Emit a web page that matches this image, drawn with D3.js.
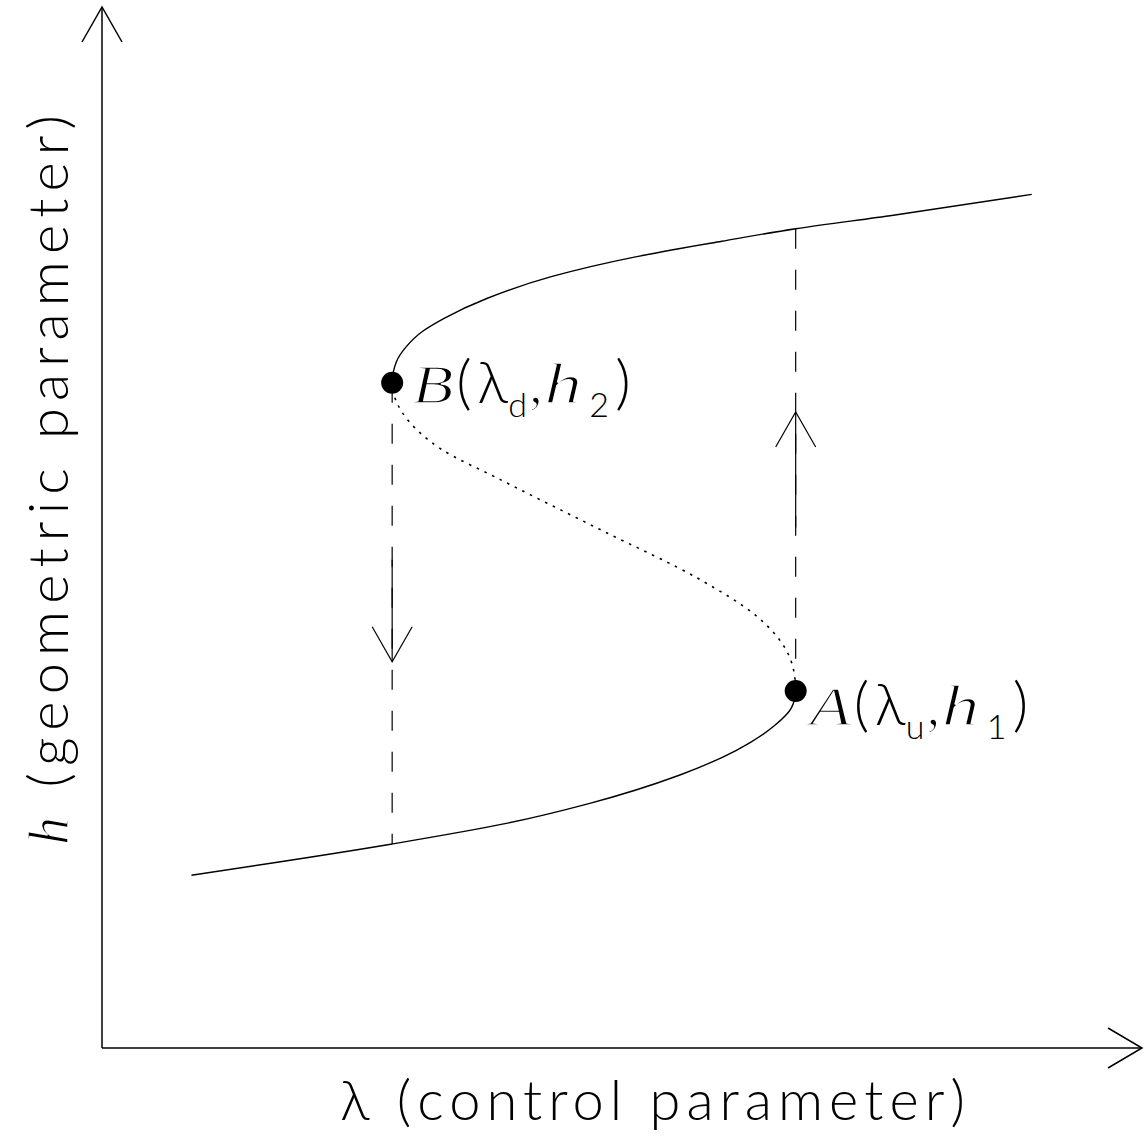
<!DOCTYPE html>
<html>
<head>
<meta charset="utf-8">
<script src="https://cdn.jsdelivr.net/npm/d3@7"></script>
<style>
body { margin: 0; background: #fff; }
</style>
</head>
<body>
<svg id="chart" width="1146" height="1137"></svg>
<script>
// equilibrium path, ordered by increasing h
// (lower stable branch, unstable branch, upper stable branch)
var pathLam = [0.86, 2.79, 3.90, 4.69, 5.55, 6.10, 6.47, 6.63, 6.67,
    6.65, 6.55, 6.28, 5.75, 4.79, 3.83, 3.25, 2.96, 2.83, 2.79,
    2.83, 2.92, 3.09, 3.29, 3.70, 4.32, 5.13, 5.96, 6.67, 7.61, 8.94];
var pathH = [1.66, 1.96, 2.16, 2.35, 2.62, 2.86, 3.10, 3.27, 3.43,
    3.63, 3.87, 4.16, 4.50, 4.98, 5.46, 5.76, 6.01, 6.21, 6.39,
    6.59, 6.73, 6.89, 7.01, 7.20, 7.41, 7.60, 7.75, 7.87, 8.00, 8.20];

// limit points A (lambda_u, h1) and B (lambda_d, h2)
var pointNames = ["A", "B"];
var pointSubs = ["u", "d"];
var pointIdx = ["1", "2"];
var pointLam = [6.67, 2.79];
var pointH = [3.43, 6.39];

// jumps from a limit point to the other stable branch
var jumpLam = [2.79, 6.67];
var jumpFrom = [6.39, 3.43];
var jumpTo = [1.96, 7.87];
var arrowTail = [4.69, 5.0];
var arrowTip = [3.71, 6.11];

var W = 1146, H = 1137;
var svg = d3.select("#chart");
var x = d3.scaleLinear().domain([0, 10]).range([102, 1142]);
var y = d3.scaleLinear().domain([0, 10]).range([1048, 7]);

var line = d3.line()
    .x(function(d) { return x(d[0]); })
    .y(function(d) { return y(d[1]); })
    .curve(d3.curveMonotoneY);

// axes with open arrow heads
var x0 = x(0), y0 = y(0), xEnd = x.range()[1], yEnd = y.range()[1];
var axes = svg.append("g")
    .attr("fill", "none")
    .attr("stroke", "#000")
    .attr("stroke-width", 1.5);
axes.append("path").attr("d", "M" + x0 + "," + y0 + "V" + yEnd);
axes.append("path").attr("d", "M" + x0 + "," + y0 + "H" + xEnd);
axes.append("path").attr("d", "M" + (x0 - 20) + "," + (yEnd + 35) + "L" + x0 + "," + yEnd + "L" + (x0 + 20) + "," + (yEnd + 35));
axes.append("path").attr("d", "M" + (xEnd - 34) + "," + (y0 - 20) + "L" + xEnd + "," + y0 + "L" + (xEnd - 34) + "," + (y0 + 20));

// the path is one smooth curve; bands in h split stable / unstable parts
var yA = y(pointH[0]), yB = y(pointH[1]);
var defs = svg.append("defs");
var stable = defs.append("clipPath").attr("id", "stable");
stable.append("rect").attr("x", 0).attr("y", 0).attr("width", W).attr("height", yB);
stable.append("rect").attr("x", 0).attr("y", yA).attr("width", W).attr("height", H - yA);
defs.append("clipPath").attr("id", "unstable")
    .append("rect").attr("x", 0).attr("y", yB).attr("width", W).attr("height", yA - yB);

var pts = pathLam.map(function(l, i) { return [l, pathH[i]]; }).reverse();
var curves = svg.append("g").attr("fill", "none").attr("stroke", "#000");
curves.append("path")
    .datum(pts)
    .attr("clip-path", "url(#stable)")
    .attr("stroke-width", 1.4)
    .attr("d", line);
curves.append("path")
    .datum(pts)
    .attr("clip-path", "url(#unstable)")
    .attr("stroke-width", 1.6)
    .attr("stroke-dasharray", "2.5,6")
    .attr("d", line);

// dashed jumps and their arrows
var jumps = svg.append("g").attr("fill", "none").attr("stroke", "#000").attr("stroke-width", 1.2);
jumpLam.forEach(function(l, i) {
    var top = Math.max(jumpFrom[i], jumpTo[i]);
    var bottom = Math.min(jumpFrom[i], jumpTo[i]);
    jumps.append("line")
        .attr("x1", x(l)).attr("x2", x(l))
        .attr("y1", y(top)).attr("y2", y(bottom))
        .attr("stroke-dasharray", "20,21");
    jumps.append("line")
        .attr("x1", x(l)).attr("x2", x(l))
        .attr("y1", y(arrowTail[i])).attr("y2", y(arrowTip[i]));
    var dir = arrowTip[i] < arrowTail[i] ? -1 : 1;
    var tx = x(l), ty = y(arrowTip[i]);
    jumps.append("path")
        .attr("d", "M" + (tx - 20) + "," + (ty + dir * 35) + "L" + tx + "," + ty + "L" + (tx + 20) + "," + (ty + dir * 35));
});

// limit points
svg.append("g").selectAll("circle")
    .data(pointLam)
    .enter()
    .append("circle")
    .attr("cx", function(d) { return x(d); })
    .attr("cy", function(d, i) { return y(pointH[i]); })
    .attr("r", 11)
    .attr("fill", "#000");

var serif = "Liberation Serif";
var sans = "Lato";

// thin a heavy glyph by painting a white stroke over its outline
function thin(sel, w) {
    return sel.attr("stroke", "#fff").attr("stroke-width", w).attr("paint-order", "normal");
}

// label glyphs laid out one by one: text, family, size, x-stretch, dx, dy
function labelGlyphs(i) {
    return [
        [pointNames[i], serif, 54, 1.25, 0, 0],
        ["(", sans, 60, 0, 44, 0],
        ["λ", sans, 58, 0, 65, 0],
        [pointSubs[i], sans, 34, 0, 96, 14],
        [",", serif, 54, 0, 117, 0],
        ["h", serif, 56, 1.35, 132, 0],
        [pointIdx[i], sans, 34, 0, 177, 14],
        [")", sans, 60, 0, 203, 0]
    ];
}
var labelDx = [14, 20];
var labelDy = [34, 20];

var labels = svg.append("g").attr("fill", "#000");
pointNames.forEach(function(name, i) {
    var lx = x(pointLam[i]) + labelDx[i];
    var ly = y(pointH[i]) + labelDy[i];
    labelGlyphs(i).forEach(function(g) {
        var t = labels.append("text")
            .attr("transform", "translate(" + (lx + g[4]) + "," + (ly + g[5]) + ")" + (g[3] ? " scale(" + g[3] + ",1)" : ""))
            .style("font-family", g[1])
            .attr("font-size", g[2])
            .attr("font-weight", g[1] === sans ? 300 : 400)
            .attr("font-style", g[3] ? "italic" : "normal")
            .text(g[0]);
        if (g[1] === serif) thin(t, 1.5);
    });
});

// axis titles
svg.append("text")
    .attr("x", 340)
    .attr("y", 1120)
    .style("font-family", sans)
    .attr("font-weight", 300)
    .attr("font-size", 56)
    .attr("textLength", 625)
    .attr("lengthAdjust", "spacing")
    .text("λ (control parameter)");

var yt = svg.append("text")
    .attr("transform", "translate(68,845) rotate(-90)")
    .style("font-family", sans)
    .attr("font-weight", 300)
    .attr("font-size", 56)
    .attr("textLength", 730)
    .attr("lengthAdjust", "spacing");
thin(yt.append("tspan").style("font-family", serif).attr("font-style", "italic").attr("font-weight", 400).text("h"), 1.4);
yt.append("tspan").text(" (geometric parameter)");
</script>
</body>
</html>
